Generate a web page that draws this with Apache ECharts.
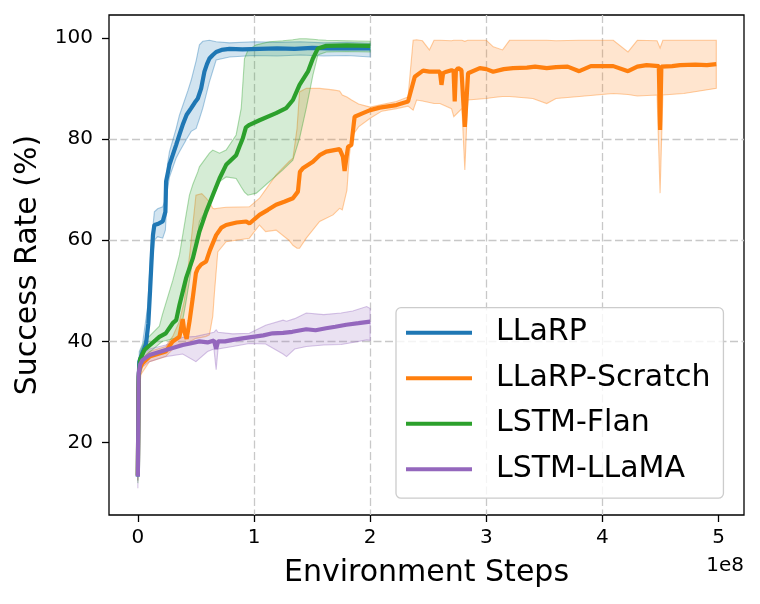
<!DOCTYPE html>
<html><head><meta charset="utf-8">
<script src="https://cdn.jsdelivr.net/npm/echarts@6/dist/echarts.min.js"></script>
<style>html,body{margin:0;padding:0;background:#fff}#c{width:760px;height:604px}</style>
</head><body><div id="c"></div>
<script>
// x values are environment steps in units of 1e8
const seriesNames = ['LLaRP', 'LLaRP-Scratch', 'LSTM-Flan', 'LSTM-LLaMA'];
const seriesColors = ['#1f77b4', '#ff7f0e', '#2ca02c', '#9467bd'];
const xTicks = [0, 1, 2, 3, 4, 5];
const yTicks = [20, 40, 60, 80, 100];

// [step, success]
const llarpLine = [[0,13.3],[0.005,30],[0.012,36],[0.04,37.8],[0.07,39.5],[0.09,43.5],[0.105,50],[0.12,57],[0.13,61],[0.142,63],[0.17,63.2],[0.214,63.7],[0.237,65.6],[0.243,71.6],[0.272,74.9],[0.30,76.8],[0.329,78.8],[0.36,81],[0.386,82.8],[0.42,84.8],[0.459,86.1],[0.49,87.2],[0.516,88.0],[0.545,90],[0.573,93.3],[0.595,94.8],[0.616,95.9],[0.645,96.6],[0.674,97.2],[0.72,97.6],[0.789,97.8],[0.9,97.7],[1.047,97.8],[1.2,97.9],[1.35,97.8],[1.5,98.0],[1.65,97.9],[1.8,97.9],[2.0,97.9]];
// [step, low, high]
const llarpBand = [[0,12.5,14],[0.012,34,38],[0.04,36.5,39.5],[0.085,41,47],[0.114,53,59],[0.142,60,65.6],[0.17,60.7,66.2],[0.214,60.4,66.6],[0.237,62,68],[0.255,70,75],[0.272,72.5,77.5],[0.329,76.2,82],[0.358,77.5,84.7],[0.43,80.4,89.5],[0.459,81.5,91.6],[0.502,82.1,95.5],[0.53,84,98.6],[0.559,86.1,99.3],[0.616,91.3,99.5],[0.674,95.6,99.2],[0.789,96.2,99.0],[1.0,96.5,99.2],[1.2,96.4,99.1],[1.4,96.6,99.2],[1.6,96.4,99.0],[1.8,96.5,99.1],[2.0,96.2,98.9]];

const scratchLine = [[0,13.5],[0.005,30],[0.012,34.4],[0.04,35.7],[0.1,37],[0.24,38],[0.3,40],[0.358,40.9],[0.386,44.4],[0.40,42],[0.42,40.5],[0.445,44],[0.472,48.5],[0.5,53.5],[0.516,54.4],[0.545,55.2],[0.588,55.8],[0.62,58],[0.674,61],[0.72,62.5],[0.76,63],[0.85,63.5],[0.933,63.7],[0.961,63.3],[1.047,65],[1.12,66],[1.19,67],[1.26,67.6],[1.335,68.3],[1.378,69.6],[1.395,73.5],[1.42,74.2],[1.507,75.5],[1.565,76.8],[1.622,77.5],[1.737,78.0],[1.765,76.5],[1.78,73.7],[1.80,77],[1.81,78.5],[1.838,78.8],[1.866,84.4],[1.938,85.1],[2.0,85.7],[2.082,86.2],[2.226,86.7],[2.326,87.4],[2.384,92.3],[2.455,93.5],[2.51,93.3],[2.6,93.3],[2.614,90.7],[2.628,93.0],[2.657,93.3],[2.70,93.6],[2.718,93.4],[2.728,87.4],[2.738,93.5],[2.757,94.0],[2.786,93.6],[2.80,88],[2.815,82.4],[2.83,88],[2.843,93.0],[2.944,94.0],[3.0,93.8],[3.059,93.3],[3.15,93.8],[3.23,94.0],[3.35,94.1],[3.42,94.3],[3.52,94.0],[3.6,94.2],[3.7,94.3],[3.8,93.4],[3.9,94.4],[4.093,94.4],[4.22,93.4],[4.3,94.3],[4.38,94.6],[4.485,94.4],[4.496,81.8],[4.507,94.3],[4.6,94.4],[4.668,94.6],[4.8,94.7],[4.9,94.6],[4.98,94.8]];
const scratchBand = [[0,12.5,14.5],[0.012,33,36],[0.1,36,38],[0.24,37,39],[0.3,38.5,41],[0.358,39.5,44],[0.40,39.5,48],[0.45,40,58],[0.50,40.6,68.9],[0.55,40.8,69.2],[0.588,41,68.3],[0.616,41.3,67.5],[0.645,45,66.3],[0.66,49.8,66.2],[0.688,57.7,66.3],[0.76,59.7,66.5],[0.96,60.4,66.6],[1.047,63,68.3],[1.1,61.7,70],[1.19,62,72.9],[1.30,60,75.5],[1.335,59,76.2],[1.37,58.4,82],[1.392,58.4,89.3],[1.45,60.4,90],[1.565,63.7,90],[1.68,65,89.7],[1.737,66.3,89.5],[1.76,66,88.7],[1.8,69.9,88.3],[1.82,76.5,88],[1.84,80.4,87.7],[1.9,82.4,86.9],[2.0,84.1,86.3],[2.1,85.5,86.8],[2.226,86,87.4],[2.326,86.5,88.3],[2.37,85.7,99.5],[2.40,87.7,99.6],[2.45,87.5,99.4],[2.51,87.2,97.6],[2.55,87,99.5],[2.6,87,99.5],[2.7,86,99.4],[2.72,84.4,99.5],[2.79,86,99.5],[2.815,73.9,99.3],[2.84,87.7,99.5],[3.0,88,99.5],[3.06,88.2,98.2],[3.14,88.4,97.6],[3.2,88.4,99.5],[3.4,88,99.5],[3.52,87,99.5],[3.6,88,99.4],[3.8,88.4,99.5],[4.093,89,99.5],[4.22,88.8,97.2],[4.3,88.5,99.5],[4.47,88.7,99.4],[4.496,69.3,98],[4.52,88.7,99.5],[4.7,89,99.5],[4.98,90,99.5]];

const flanLine = [[0,13.5],[0.006,33],[0.02,36.5],[0.056,38.3],[0.1,39.2],[0.185,40.9],[0.24,41.6],[0.3,43.6],[0.33,44.2],[0.358,47.2],[0.415,52.5],[0.473,56.4],[0.53,61.7],[0.588,65.6],[0.645,68.9],[0.703,72.2],[0.76,74.9],[0.846,76.8],[0.875,78.5],[0.903,80.1],[0.93,82.3],[0.961,82.8],[1.047,83.7],[1.19,85.1],[1.277,86.1],[1.335,87.7],[1.392,90.7],[1.464,93.3],[1.507,95.9],[1.55,97.9],[1.622,98.4],[1.8,98.5],[2.0,98.4]];
const flanBand = [[0,12,14.5],[0.02,35,38],[0.056,37,40],[0.185,39.5,43],[0.21,40,45.2],[0.3,40.5,52],[0.358,40.6,57.1],[0.415,47.9,65],[0.444,52,68.9],[0.473,56.4,71],[0.516,61,73.5],[0.53,63.7,74.5],[0.616,67,77.2],[0.645,68.5,77.8],[0.703,71.6,77.2],[0.76,72.5,77.8],[0.846,72.2,80.8],[0.89,70.5,86.1],[0.918,69.5,95.9],[0.947,68.9,97.5],[1.02,69.3,98.6],[1.134,71.6,99.2],[1.248,73.9,99.4],[1.334,75.8,99.6],[1.392,80.1,99.8],[1.45,86.1,99.8],[1.507,92.6,99.7],[1.55,96.6,99.6],[1.622,97.2,99.5],[1.8,97.3,99.4],[2.0,97.2,99.3]];

const llamaLine = [[0,13.3],[0.004,25],[0.007,33.7],[0.02,35.5],[0.04,36.3],[0.1,37.3],[0.17,37.8],[0.24,38.3],[0.3,38.7],[0.386,39.3],[0.45,39.6],[0.53,40],[0.6,39.8],[0.655,40.2],[0.674,38.5],[0.69,40.0],[0.75,40.0],[0.817,40.3],[0.9,40.6],[0.99,40.9],[1.08,41.2],[1.16,41.6],[1.25,41.7],[1.33,41.9],[1.45,42.4],[1.53,42.2],[1.62,42.6],[1.7,42.9],[1.795,43.3],[1.9,43.6],[2.0,43.9]];
const llamaBand = [[0,11,14.5],[0.007,32,35],[0.04,35,37.5],[0.1,36,38.5],[0.24,37,39.3],[0.386,37.5,40.8],[0.5,36,41],[0.6,38,41.5],[0.655,38.5,41.8],[0.674,34.4,42.3],[0.69,38.5,41.8],[0.817,39.0,41.5],[0.96,39.6,41.6],[1.1,39.5,43.2],[1.25,37.5,44.2],[1.28,37,44.0],[1.35,38.5,44.5],[1.45,39,45.6],[1.6,39.3,45.3],[1.75,39.4,45.6],[1.85,39.8,46.0],[1.97,40.3,46.9],[2.0,40.2,46.5]];

const lines = [llarpLine, scratchLine, flanLine, llamaLine];
const bands = [llarpBand, scratchBand, flanBand, llamaBand];

function rgba(hex, a) {
  const n = parseInt(hex.slice(1), 16);
  return 'rgba(' + (n >> 16 & 255) + ',' + (n >> 8 & 255) + ',' + (n & 255) + ',' + a + ')';
}
const FONT = 'DejaVu Sans';

function bandSeries(band, color) {
  return {
    type: 'custom', silent: true, clip: true, data: band,
    encode: {x: 0, y: [1, 2]},
    renderItem: function (params, api) {
      if (params.dataIndex !== 0) return null;
      const up = band.map(d => api.coord([d[0], d[2]]));
      const lo = band.map(d => api.coord([d[0], d[1]])).reverse();
      return {type: 'polygon', shape: {points: up.concat(lo)},
        style: {fill: rgba(color, 0.2), stroke: rgba(color, 0.38), lineWidth: 1.1}};
    }
  };
}

const series = [];
seriesNames.forEach((name, i) => {
  series.push(bandSeries(bands[i], seriesColors[i]));
  series.push({
    type: 'line', name: name, data: lines[i], showSymbol: false, symbol: 'none',
    lineStyle: {color: seriesColors[i], width: 4.2}, itemStyle: {color: seriesColors[i]},
    emphasis: {disabled: true}, clip: true
  });
});

const gridLine = {show: true, showMinLine: false, showMaxLine: false, lineStyle: {color: '#c8c8c8', type: [8, 3.5], width: 1.3}};

const chart = echarts.init(document.getElementById('c'), null, {renderer: 'canvas'});
chart.setOption({
  animation: false,
  backgroundColor: '#ffffff',
  grid: {left: 109, right: 16, top: 15, bottom: 89, show: true, borderColor: '#000', borderWidth: 1.3, backgroundColor: 'transparent', outerBoundsMode: 'none'},
  xAxis: {
    type: 'value', min: -0.2485, max: 5.2185,
    axisLine: {show: false, onZero: false},
    axisTick: {show: true, inside: false, length: 7, lineStyle: {color: '#000', width: 1.3}, customValues: xTicks},
    axisLabel: {customValues: xTicks, fontSize: 20, fontFamily: FONT, color: '#000', margin: 13},
    splitLine: gridLine,
    name: 'Environment Steps', nameLocation: 'middle', nameGap: 43,
    nameTextStyle: {fontSize: 30, fontFamily: FONT, color: '#000'}
  },
  yAxis: {
    type: 'value', min: 5.7, max: 104.5,
    axisLine: {show: false, onZero: false},
    axisTick: {show: true, inside: false, length: 7, lineStyle: {color: '#000', width: 1.3}, customValues: yTicks},
    axisLabel: {customValues: yTicks, fontSize: 20, fontFamily: FONT, color: '#000', margin: 16},
    splitLine: gridLine,
    name: 'Success Rate (%)', nameLocation: 'middle', nameGap: 66, nameRotate: 90,
    nameTextStyle: {fontSize: 30, fontFamily: FONT, color: '#000'}
  },
  legend: {
    data: seriesNames, orient: 'vertical', left: 396, top: 307.7,
    icon: 'rect', itemWidth: 66, itemHeight: 4, itemGap: 9.5,
    padding: [7, 13, 11, 10],
    backgroundColor: 'rgba(255,255,255,0.8)', borderColor: '#cccccc', borderWidth: 1.3, borderRadius: 5,
    selectedMode: false,
    textStyle: {fontSize: 30, fontFamily: FONT, color: '#000', lineHeight: 36, padding: [0, 0, 0, 19]}
  },
  graphic: [{type: 'text', right: 16, top: 556, style: {text: '1e8', font: '20px "DejaVu Sans"', fill: '#000'}}],
  series: series
});
</script></body></html>
